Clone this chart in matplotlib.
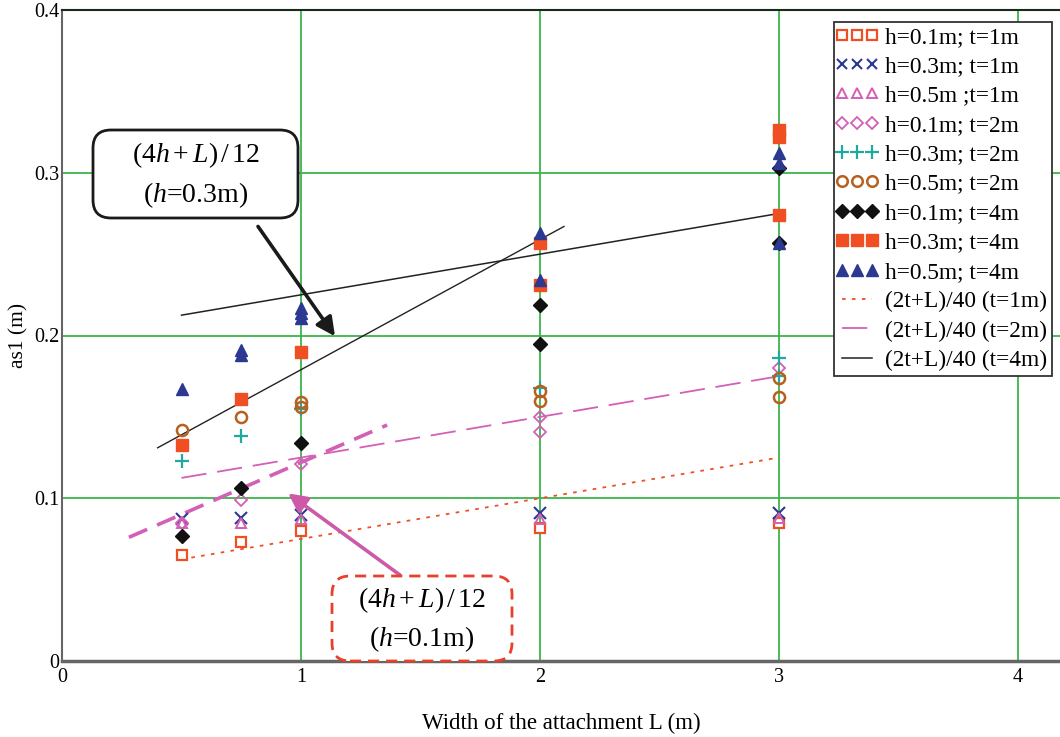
import matplotlib
matplotlib.use("Agg")
import matplotlib.pyplot as plt
from matplotlib.lines import Line2D
from matplotlib.legend_handler import HandlerLine2D
from matplotlib.patches import FancyBboxPatch
from matplotlib.transforms import IdentityTransform

plt.rcParams['font.family'] = ['Liberation Serif', 'DejaVu Serif']
plt.rcParams['mathtext.fontset'] = 'custom'
plt.rcParams['mathtext.rm'] = 'Liberation Serif'
plt.rcParams['mathtext.it'] = 'Liberation Serif:italic'

# ---- data ----
L_sq_o = [0.5, 0.75, 1, 2, 3]
v_sq_o = [0.065, 0.073, 0.080, 0.082, 0.085]          # h=0.1m; t=1m

L_x = [0.5, 0.75, 1, 2, 3]
v_x = [0.087, 0.088, 0.090, 0.091, 0.091]             # h=0.3m; t=1m

L_tri_o = [0.5, 0.75, 1, 2, 3]
v_tri_o = [0.085, 0.085, 0.087, 0.087, 0.088]         # h=0.5m; t=1m

L_dia_o = [0.5, 0.75, 1, 2, 2, 3]
v_dia_o = [0.085, 0.099, 0.121, 0.150, 0.141, 0.180]  # h=0.1m; t=2m

L_plus = [0.5, 0.75, 1, 2, 3, 3]
v_plus = [0.123, 0.138, 0.155, 0.168, 0.186, 0.175]   # h=0.3m; t=2m

L_circ = [0.5, 0.75, 1, 1, 2, 2, 3, 3]
v_circ = [0.142, 0.150, 0.159, 0.156, 0.166, 0.160, 0.174, 0.162]  # h=0.5m; t=2m

L_dia_f = [0.5, 0.75, 1, 2, 2, 3, 3]
v_dia_f = [0.077, 0.106, 0.134, 0.219, 0.195, 0.303, 0.257]  # h=0.1m; t=4m

L_sq_f = [0.5, 0.75, 1, 2, 2, 3, 3, 3]
v_sq_f = [0.133, 0.161, 0.190, 0.257, 0.231, 0.326, 0.322, 0.274]  # h=0.3m; t=4m

L_tri_f = [0.5, 0.75, 0.75, 1, 1, 1, 2, 2, 3, 3, 3]
v_tri_f = [0.167, 0.191, 0.188, 0.217, 0.214, 0.211, 0.263, 0.234, 0.312, 0.306, 0.257]  # h=0.5m; t=4m

# (2t+L)/40 lines
L_line = [0.5, 3]
v_t1 = [0.0625, 0.125]
v_t2 = [0.1125, 0.175]
v_t4 = [0.2125, 0.275]

# (4h+L)/12 guide lines
L_h03 = [0.40, 2.10]
v_h03 = [0.131, 0.267]
L_h01 = [0.28, 1.36]
v_h01 = [0.076, 0.145]

RED = '#f04e23'
BLUE = '#2b3990'
PINK = '#d35fb7'
CYAN = '#1eaaa0'
BROWN = '#b8601e'
GREEN = '#3cb44b'

W, H = 1060, 737
fig = plt.figure(figsize=(W / 100, H / 100), dpi=100)
ax = fig.add_axes([62 / W, 1 - 661 / H, 998 / W, 651 / H])

ax.plot(L_sq_o, v_sq_o, ls='none', marker='s', ms=7.5, mfc='white', mec=RED, mew=1.6,
        label='h=0.1m; t=1m', zorder=5)
ax.plot(L_x, v_x, ls='none', marker='x', ms=8, mec=BLUE, mew=1.5,
        label='h=0.3m; t=1m', zorder=5)
ax.plot(L_tri_o, v_tri_o, ls='none', marker='^', ms=7.5, mfc='none', mec=PINK, mew=1.4,
        label='h=0.5m ;t=1m', zorder=5)
ax.plot(L_dia_o, v_dia_o, ls='none', marker='D', ms=6, mfc='none', mec=PINK, mew=1.3,
        label='h=0.1m; t=2m', zorder=5)
ax.plot(L_plus, v_plus, ls='none', marker='+', ms=10, mec=CYAN, mew=1.6,
        label='h=0.3m; t=2m', zorder=5)
ax.plot(L_circ, v_circ, ls='none', marker='o', ms=8, mfc='none', mec=BROWN, mew=1.8,
        label='h=0.5m; t=2m', zorder=5)
ax.plot(L_dia_f, v_dia_f, ls='none', marker='D', ms=7, color='#111111',
        label='h=0.1m; t=4m', zorder=5)
ax.plot(L_sq_f, v_sq_f, ls='none', marker='s', ms=8.5, color=RED,
        label='h=0.3m; t=4m', zorder=5)
ax.plot(L_tri_f, v_tri_f, ls='none', marker='^', ms=9, color=BLUE,
        label='h=0.5m; t=4m', zorder=5)

ax.plot(L_line, v_t1, color=RED, lw=1.3, dashes=(2, 3.5), label='(2t+L)/40 (t=1m)', zorder=4)
ax.plot(L_line, v_t2, color=PINK, lw=1.3, dashes=(14, 6), label='(2t+L)/40 (t=2m)', zorder=4)
ax.plot(L_line, v_t4, color='#222222', lw=1.1, label='(2t+L)/40 (t=4m)', zorder=4)

ax.plot(L_h03, v_h03, color='#222222', lw=1.0, zorder=4)
ax.plot(L_h01, v_h01, color=PINK, lw=2.6, dashes=(5.5, 3), zorder=4)

# arrows
ax.annotate('', xy=(1.142, 0.1995), xytext=(0.82, 0.267),
            arrowprops=dict(arrowstyle='-|>', lw=2.6, color='#1a1a1a', mutation_scale=28,
                            shrinkA=0, shrinkB=0), zorder=6)
ax.annotate('', xy=(0.946, 0.103), xytext=(1.414, 0.0528),
            arrowprops=dict(arrowstyle='-|>', lw=2.6, color='#cc5aa8', mutation_scale=28,
                            shrinkA=0, shrinkB=0), zorder=6)

# callout boxes (pixel coordinates, y from top)
def callout(x0, y0, x1, y1, edge, ls, line1, line2):
    box = FancyBboxPatch((x0, H - y1), x1 - x0, y1 - y0,
                         boxstyle='round,pad=0,rounding_size=18',
                         transform=IdentityTransform(), fc='white', ec=edge,
                         lw=2, ls=ls, zorder=7)
    fig.add_artist(box)
    cx = (x0 + x1) / 2
    fig.text(cx / W, 1 - (y0 + 0.28 * (y1 - y0)) / H, line1, ha='center', va='center',
             fontsize=20, zorder=8)
    fig.text(cx / W, 1 - (y0 + 0.74 * (y1 - y0)) / H, line2, ha='center', va='center',
             fontsize=20, zorder=8)

callout(93, 130, 298, 218, '#1a1a1a', '-', '$(4h+L)\\,/\\,12$', '($h$=0.3m)')
callout(332, 576, 512, 661, '#e8402a', (0, (4, 2.5)), '$(4h+L)\\,/\\,12$', '($h$=0.1m)')

ax.set_xlim(0, 4.175)
ax.set_ylim(0, 0.4)
ax.set_xticks([0, 1, 2, 3, 4])
ax.set_yticks([0, 0.1, 0.2, 0.3, 0.4])
ax.set_yticklabels(['0', '0.1', '0.2', '0.3', '0.4'])
ax.tick_params(axis='y', length=0, labelsize=14.5, pad=2)
ax.tick_params(axis='x', length=0, labelsize=14.5, pad=5)
ax.grid(True, color=GREEN, lw=1.3)
ax.set_axisbelow(True)

ax.spines['top'].set_color('#1a2a1a')
ax.spines['top'].set_linewidth(1.5)
ax.spines['left'].set_color('#666666')
ax.spines['left'].set_linewidth(1.5)
ax.spines['bottom'].set_color('#666666')
ax.spines['bottom'].set_linewidth(2.5)
ax.spines['right'].set_visible(False)

ax.set_xlabel('Width of the attachment L (m)', fontsize=16.5, labelpad=19)
ax.set_ylabel('as1 (m)', fontsize=15.5, labelpad=4)

leg = ax.legend(loc='upper right', bbox_to_anchor=(0.992, 0.982), borderaxespad=0,
                numpoints=3, fontsize=16.8, frameon=True, fancybox=False,
                handlelength=1.6, handletextpad=0.4, labelspacing=0.345,
                borderpad=0.2, markerscale=0.95, framealpha=1,
                handler_map={Line2D: HandlerLine2D(marker_pad=0.15)})
leg.get_frame().set_edgecolor('#333333')
leg.get_frame().set_linewidth(1.3)
leg.set_zorder(10)

fig.savefig('out.png', dpi=100)
